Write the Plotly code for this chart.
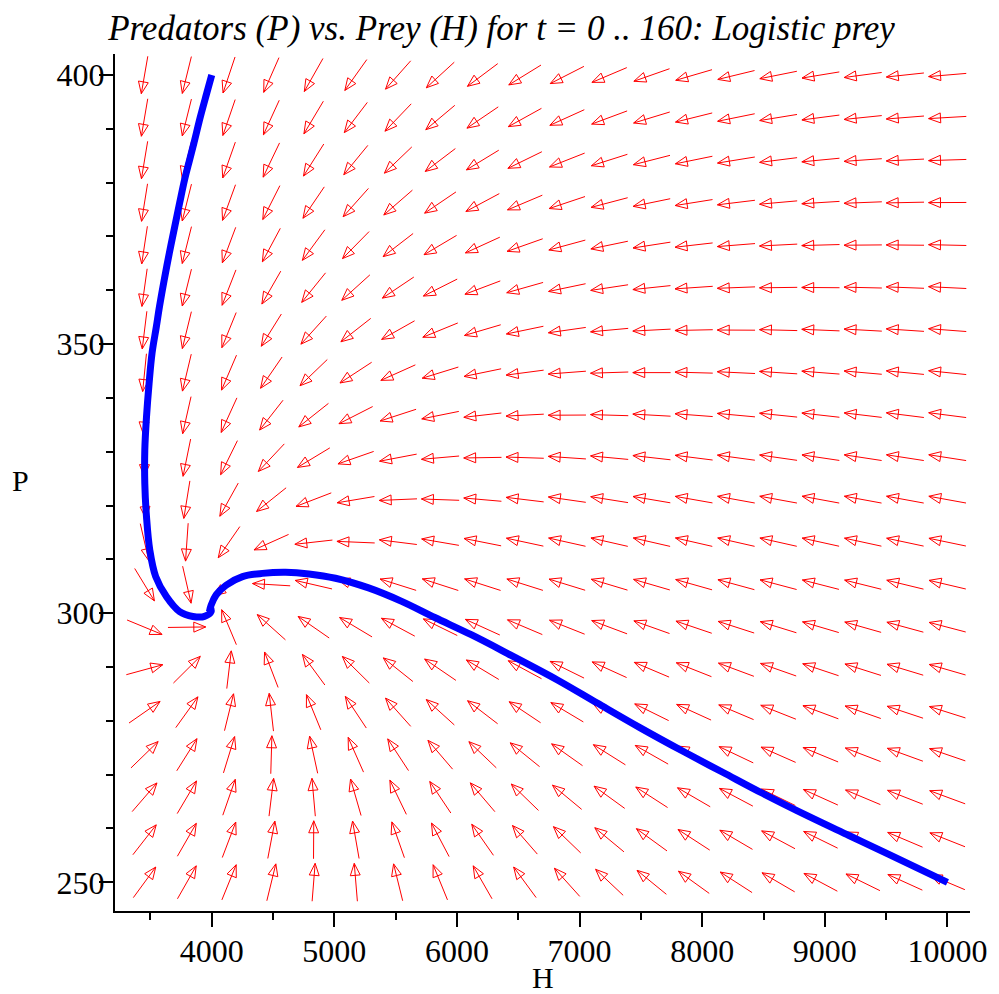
import numpy as np
import plotly.graph_objects as go

# ---------------- data ----------------
# direction-field grid (nodes where arrows are centred)
H_GRID = [3452, 3797, 4141, 4486, 4831, 5175, 5520, 5864, 6209, 6554,
          6898, 7243, 7588, 7932, 8277, 8621, 8966, 9311, 9655, 10000]
P_GRID = [250.0, 257.9, 265.8, 273.7, 281.6, 289.5, 297.4, 305.3, 313.2, 321.1,
          328.9, 336.8, 344.7, 352.6, 360.5, 368.4, 376.3, 384.2, 392.1, 400.0]

# model coefficients of the system whose slope field is drawn
PREY_CAPACITY = 10000.0      # logistic carrying capacity of prey
PREY_RATE_RATIO = 500.0      # r / a
PRED_BASE = 250.0            # predator capacity without prey
PRED_PER_PREY = 1.0 / 80.0   # extra predator capacity per prey
PRED_RATE = 0.77             # predator rate relative to prey rate

# trajectory 1: H(0)=4000, P(0)=400
TRAJ1_H = [4000, 3959, 3908, 3854, 3819, 3778, 3738, 3698, 3654, 3612, 3574, 3548,
           3513, 3489, 3468, 3454, 3454, 3468, 3495, 3543, 3630, 3738, 3846, 3941,
           3995, 3987]
TRAJ1_P = [400.0, 396.6, 392.3, 387.3, 384.2, 380.5, 376.2, 371.8, 366.9, 361.9, 357.0,
           353.2, 348.3, 342.7, 336.5, 330.3, 324.1, 317.9, 311.7, 306.8, 303.1, 300.3,
           299.4, 299.4, 300.3, 301.2]
# trajectory 2: H(0)=10000, P(0)=250
TRAJ2_H = [10000, 9522, 9197, 8873, 8495, 8171, 7847, 7495, 7144, 6819, 6414, 6116,
           5819, 5549, 5279, 5009, 4792, 4603, 4414, 4251, 4117, 4036, 3995, 3981]
TRAJ2_P = [250.0, 255.2, 258.7, 262.2, 266.5, 270.4, 274.3, 278.7, 283.3, 287.6, 292.5,
           296.0, 299.2, 302.2, 304.7, 306.5, 307.3, 307.6, 307.4, 306.8, 305.2, 303.4,
           301.5, 300.3]

X_TICKS = [4000, 5000, 6000, 7000, 8000, 9000, 10000]
X_MINOR = [3500, 4500, 5500, 6500, 7500, 8500, 9500]
Y_TICKS = [250, 300, 350, 400]
Y_MINOR = [260, 270, 280, 290, 310, 320, 330, 340, 360, 370, 380, 390]

TITLE = "Predators (P) vs. Prey (H) for t = 0 .. 160: Logistic prey"

# ---------------- layout geometry ----------------
W, HGT = 999, 994
ML, MR, MT, MB = 115, 24, 54, 83
X_RANGE = [3211.0, 10184.0]
Y_RANGE = [244.67, 403.9]
PW = W - ML - MR
PH = HGT - MT - MB
px_per_H = PW / (X_RANGE[1] - X_RANGE[0])
px_per_P = PH / (Y_RANGE[1] - Y_RANGE[0])

ARROW_LEN = 38.0
HEAD_LEN = 12.0
HEAD_HALF = 5.0

ax, ay = [], []
for P in P_GRID:
    for Hh in H_GRID:
        dH = Hh * (PREY_RATE_RATIO * (1 - Hh / PREY_CAPACITY) - P)
        dP = PRED_RATE * P * (PRED_BASE + PRED_PER_PREY * Hh - P)
        vx, vy = dH * px_per_H, dP * px_per_P
        n = np.hypot(vx, vy)
        ux, uy = vx / n, vy / n
        nx, ny = -uy, ux
        half = ARROW_LEN / 2
        pts = [(-ux * half, -uy * half), (ux * half, uy * half)]
        bx, by = ux * (half - HEAD_LEN), uy * (half - HEAD_LEN)
        c1 = (bx + nx * HEAD_HALF, by + ny * HEAD_HALF)
        c2 = (bx - nx * HEAD_HALF, by - ny * HEAD_HALF)
        pts += [c1, c2, (ux * half, uy * half)]
        for (ox, oy) in pts:
            ax.append(Hh + ox / px_per_H)
            ay.append(P + oy / px_per_P)
        ax.append(None)
        ay.append(None)

fig = go.Figure()
fig.add_trace(go.Scatter(x=ax, y=ay, mode="lines",
                         line=dict(color="#ff0000", width=1),
                         hoverinfo="skip", showlegend=False))
for th, tp in ((TRAJ1_H, TRAJ1_P), (TRAJ2_H, TRAJ2_P)):
    fig.add_trace(go.Scatter(x=th, y=tp, mode="lines",
                             line=dict(color="#0000ff", width=7, shape="spline", smoothing=1.0),
                             showlegend=False))

FONT = "Liberation Serif, Times New Roman, serif"
common = dict(showline=True, linecolor="black", linewidth=2, ticks="outside",
              ticklen=14, tickwidth=2, tickcolor="black", showgrid=False,
              zeroline=False, tickfont=dict(family=FONT, size=32, color="black"))

fig.update_layout(
    width=W, height=HGT,
    margin=dict(l=ML, r=MR, t=MT, b=MB),
    paper_bgcolor="white", plot_bgcolor="white",
    title=dict(text="<i>" + TITLE + "</i>", x=0.502, xanchor="center",
               y=1 - 28 / HGT, yanchor="middle", xref="container", yref="container",
               font=dict(family=FONT, size=35, color="black")),
    xaxis=dict(range=X_RANGE, tickvals=X_TICKS, ticktext=[str(v) for v in X_TICKS],
               ticklabelstandoff=-3,
               minor=dict(tickvals=X_MINOR, ticks="outside", ticklen=7, tickwidth=2,
                          tickcolor="black", showgrid=False),
               **common),
    yaxis=dict(range=Y_RANGE, tickvals=Y_TICKS, ticktext=[str(v) for v in Y_TICKS],
               ticklabelstandoff=-12,
               minor=dict(tickvals=Y_MINOR, ticks="outside", ticklen=7, tickwidth=2,
                          tickcolor="black", showgrid=False),
               **common),
    annotations=[
        dict(text="H", x=0.5, y=-(978 - (HGT - MB)) / PH, xref="paper", yref="paper",
             xanchor="center", yanchor="middle", showarrow=False,
             font=dict(family=FONT, size=30, color="black")),
        dict(text="P", x=(20 - ML) / PW, y=(HGT - MB - 480) / PH, xref="paper", yref="paper",
             xanchor="center", yanchor="middle", showarrow=False,
             font=dict(family=FONT, size=30, color="black")),
    ],
)

fig.write_html("out.html")
